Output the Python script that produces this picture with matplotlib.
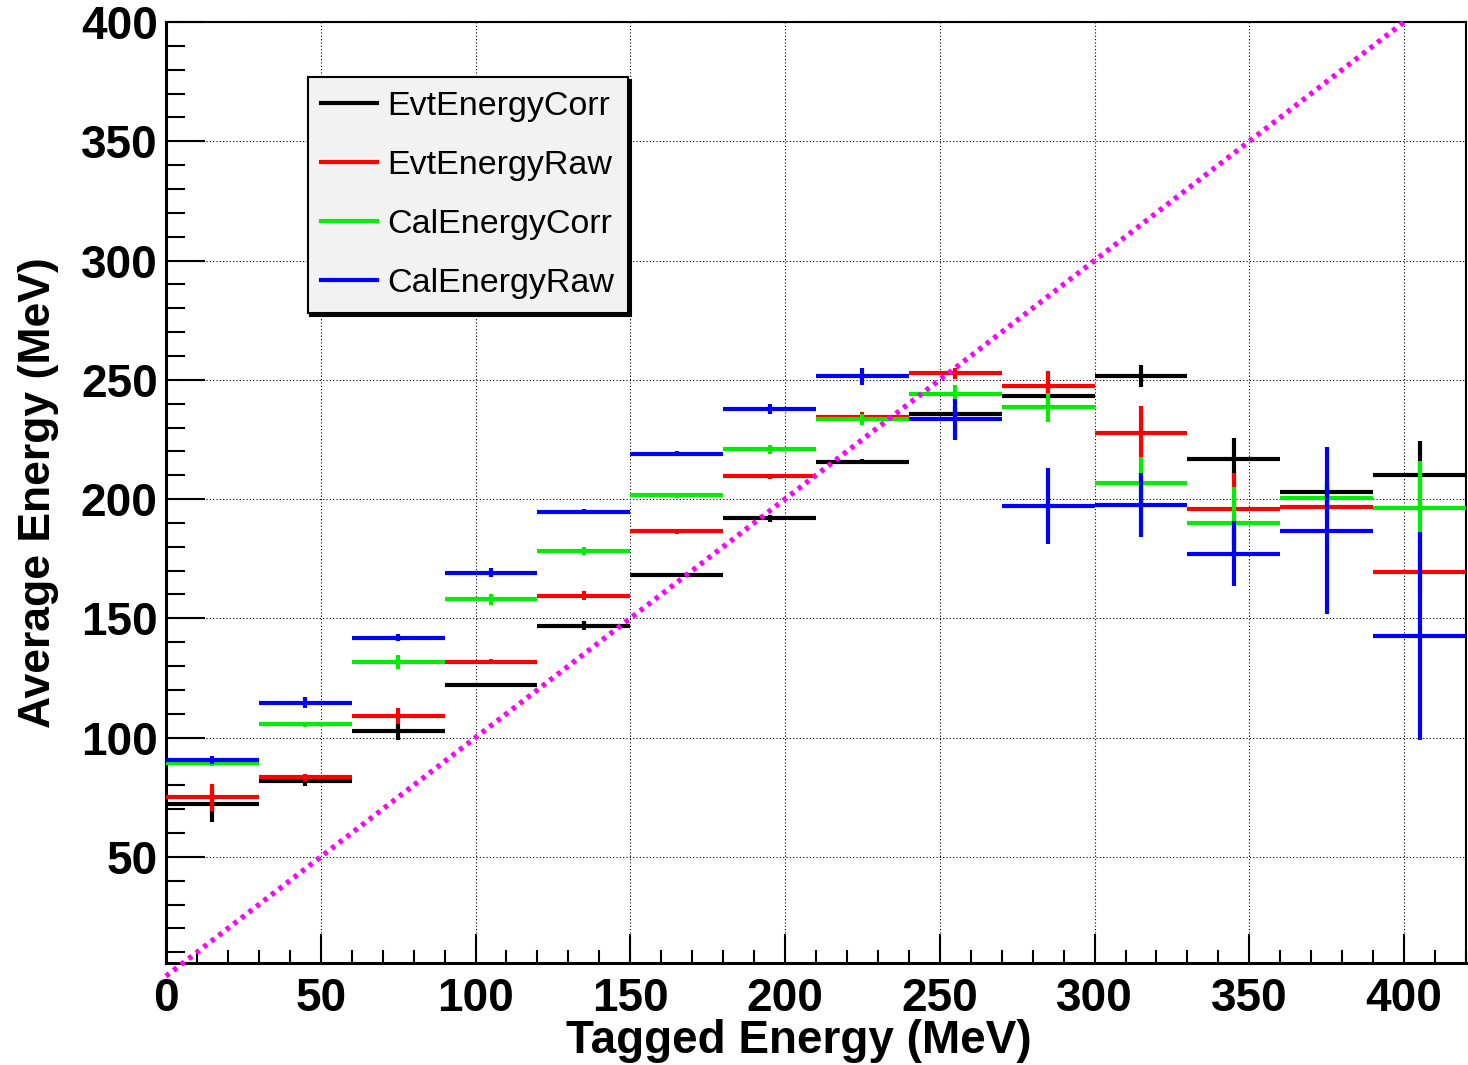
import numpy as np
import matplotlib
matplotlib.use('Agg')
import matplotlib.pyplot as plt
from matplotlib.lines import Line2D
from matplotlib.ticker import MultipleLocator

plt.rcParams['font.family'] = ['Liberation Sans', 'DejaVu Sans']

# bin layout (30 MeV wide bins)
bin_lo = np.arange(0, 420, 30)
bin_centers = bin_lo + 15
bin_half = 15

evt_corr = [72.0, 81.9, 102.8, 122.0, 146.9, 168.2, 191.9, 215.7, 235.6, 243.1, 251.6, 217.0, 203.1, 210.0]
evt_corr_err = [7.3, 2.2, 3.8, 1.0, 1.8, 1.0, 1.5, 1.0, 3.0, 4.0, 4.5, 8.5, 4.0, 14.4]

evt_raw = [75.0, 83.4, 109.1, 131.8, 159.5, 186.4, 209.5, 234.6, 252.7, 247.6, 227.6, 195.8, 196.5, 169.6]
evt_raw_err = [5.6, 1.5, 3.5, 1.0, 1.8, 1.0, 1.0, 1.7, 2.4, 5.9, 11.5, 15.0, 4.0, 10.0]

cal_corr = [89.2, 105.6, 131.7, 157.9, 178.3, 201.6, 220.9, 233.4, 244.1, 238.4, 206.6, 190.1, 200.3, 196.4]
cal_corr_err = [1.0, 1.0, 3.0, 2.2, 1.7, 1.0, 1.8, 2.4, 3.6, 6.2, 10.9, 15.0, 5.0, 19.5]

cal_raw = [90.6, 114.7, 141.9, 169.2, 194.7, 219.0, 237.8, 251.4, 233.4, 197.1, 197.5, 177.1, 186.7, 142.5]
cal_raw_err = [1.5, 2.5, 1.4, 2.0, 1.0, 1.0, 2.0, 3.4, 8.5, 15.8, 13.6, 13.6, 35.0, 43.6]

series = [
    ('EvtEnergyCorr', evt_corr, evt_corr_err, 'black'),
    ('EvtEnergyRaw', evt_raw, evt_raw_err, 'red'),
    ('CalEnergyCorr', cal_corr, cal_corr_err, '#00ee00'),
    ('CalEnergyRaw', cal_raw, cal_raw_err, 'blue'),
]

fig = plt.figure(figsize=(14.68, 10.65), dpi=100)
ax = fig.add_axes([166/1468, 1 - 963/1065, 1300/1468, 941/1065])

handles = []
for name, vals, errs, col in series:
    ax.errorbar(bin_centers, vals, xerr=bin_half, yerr=errs, fmt='none',
                ecolor=col, elinewidth=3, capsize=0, zorder=3)
    handles.append(Line2D([], [], color=col, lw=3, label=name))

# E_reco = E_tagged reference line
ax.plot([0, 400], [0, 400], color='#ff00ff', lw=3.8, ls=(0, (0.8, 1.0)),
        clip_on=False, zorder=4)

ax.set_xlim(0, 420)
ax.set_ylim(5.5, 400)

ax.xaxis.set_major_locator(MultipleLocator(50))
ax.xaxis.set_minor_locator(MultipleLocator(10))
ax.yaxis.set_major_locator(MultipleLocator(50))
ax.yaxis.set_minor_locator(MultipleLocator(10))

ax.grid(True, which='major', color='black', ls=(0, (1, 2)), lw=0.8, zorder=0)

ax.tick_params(axis='y', which='major', direction='in', length=28, width=1.5, pad=6,
               labelsize=33, right=False)
ax.tick_params(axis='y', which='minor', direction='in', length=14, width=1.5, right=False)
ax.tick_params(axis='x', which='major', direction='in', length=21, width=1.5, pad=10,
               labelsize=33, top=False)
ax.tick_params(axis='x', which='minor', direction='in', length=9.5, width=1.5, top=False)
for lbl in ax.get_xticklabels() + ax.get_yticklabels():
    lbl.set_fontweight('bold')

for s in ['left', 'bottom']:
    ax.spines[s].set_linewidth(2.2)
for s in ['top', 'right']:
    ax.spines[s].set_linewidth(1.5)

ax.set_xlabel('Tagged Energy (MeV)', fontsize=33, fontweight='bold')
ax.xaxis.set_label_coords(0.487, -0.06)
ax.set_ylabel('Average Energy (MeV)', fontsize=32, fontweight='bold')
ax.yaxis.set_label_coords(-0.082, 0.5)

leg = ax.legend(handles=handles, loc='upper left', bbox_to_anchor=(0.109, 0.9415),
                fontsize=24.5, handlelength=1.65, handletextpad=0.3, labelspacing=0.83,
                borderpad=0.4, borderaxespad=0, fancybox=False,
                shadow={'facecolor': 'black', 'edgecolor': 'black', 'alpha': 1})
leg.get_frame().set_facecolor('#f2f2f2')
leg.get_frame().set_edgecolor('black')
leg.get_frame().set_linewidth(1.5)
leg.get_frame().set_alpha(1)
leg.set_zorder(5)

fig.savefig('out.png', dpi=100)
